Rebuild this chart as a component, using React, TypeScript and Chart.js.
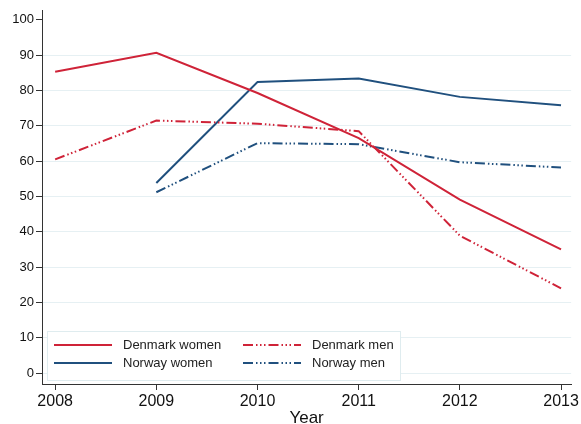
import React, { useEffect, useRef } from "react";
import { Chart, registerables } from "chart.js";

Chart.register(...registerables);

// Share of respondents by year, country and sex
const years = [2008, 2009, 2010, 2011, 2012, 2013];
const denmarkWomen = [85.3, 90.7, 79.3, 66.5, 49.1, 35.0];
const denmarkMen = [60.5, 71.5, 70.6, 68.5, 38.9, 24.0];
const norwayWomen = [null, 53.8, 82.4, 83.4, 78.2, 75.8];
const norwayMen = [null, 51.2, 65.1, 64.8, 59.7, 58.2];
const yTicks = [0, 10, 20, 30, 40, 50, 60, 70, 80, 90, 100];

const RED = "#cf2338";
const BLUE = "#20507e";
const DASH_DOTS = [10, 3, 1.5, 2.5, 1.5, 2.5, 1.5, 3];
const FONT = "'Liberation Sans', Arial, sans-serif";

const toPoints = (vals: (number | null)[]) =>
  years.map((x, i) => ({ x, y: vals[i] }));

// Two-column legend drawn inside the lower-left of the plot area
const boxLegend = {
  id: "boxLegend",
  afterDraw(chart: any) {
    const { ctx, chartArea } = chart;
    const ds = chart.data.datasets;
    const left = chartArea.left + 5;
    const right = left + 354;
    const bottom = chartArea.bottom - 3;
    const top = bottom - 50;
    ctx.save();
    ctx.fillStyle = "#ffffff";
    ctx.fillRect(left, top, right - left, bottom - top);
    ctx.strokeStyle = "#dfecef";
    ctx.lineWidth = 1;
    ctx.strokeRect(left + 0.5, top + 0.5, right - left - 1, bottom - top - 1);
    ctx.font = `13px ${FONT}`;
    ctx.textBaseline = "middle";
    ctx.textAlign = "left";
    const cols = [left + 7, left + 196];
    const rows = [top + 14, top + 32];
    // [dataset index, column, row]
    const layout = [
      [0, 0, 0],
      [1, 1, 0],
      [2, 0, 1],
      [3, 1, 1],
    ];
    layout.forEach(([di, c, r]) => {
      const d = ds[di];
      const x = cols[c];
      const y = rows[r];
      ctx.beginPath();
      ctx.strokeStyle = d.borderColor;
      ctx.lineWidth = 2;
      ctx.setLineDash(d.borderDash || []);
      ctx.moveTo(x, y);
      ctx.lineTo(x + 58, y);
      ctx.stroke();
      ctx.setLineDash([]);
      ctx.fillStyle = "#222222";
      ctx.fillText(d.label, x + 69, y);
    });
    ctx.restore();
  },
};

export default function App() {
  const ref = useRef<HTMLCanvasElement>(null);

  useEffect(() => {
    document.body.style.margin = "0";
    const canvas = ref.current;
    if (!canvas) return;
    const chart = new Chart(canvas, {
      type: "line",
      data: {
        datasets: [
          {
            label: "Denmark women",
            data: toPoints(denmarkWomen),
            borderColor: RED,
            borderWidth: 2,
            pointRadius: 0,
          },
          {
            label: "Denmark men",
            data: toPoints(denmarkMen),
            borderColor: RED,
            borderWidth: 2,
            borderDash: DASH_DOTS,
            pointRadius: 0,
          },
          {
            label: "Norway women",
            data: toPoints(norwayWomen),
            borderColor: BLUE,
            borderWidth: 2,
            pointRadius: 0,
          },
          {
            label: "Norway men",
            data: toPoints(norwayMen),
            borderColor: BLUE,
            borderWidth: 2,
            borderDash: DASH_DOTS,
            pointRadius: 0,
          },
        ] as any,
      },
      options: {
        responsive: false,
        animation: false,
        layout: { padding: { left: 0, top: 10, right: 9, bottom: 0 } },
        plugins: {
          legend: { display: false },
          tooltip: { enabled: false },
        },
        scales: {
          x: {
            type: "linear",
            min: 2007.87,
            max: 2013.1,
            afterBuildTicks: (s: any) => {
              s.ticks = years.map((v) => ({ value: v }));
            },
            afterFit: (s: any) => {
              s.height = 40;
            },
            grid: {
              drawOnChartArea: false,
              drawTicks: true,
              tickLength: 6,
              tickColor: "#333333",
            },
            border: { color: "#333333", width: 1 },
            ticks: {
              color: "#111111",
              font: { family: FONT, size: 16 },
              padding: 2,
              maxRotation: 0,
              callback: (v: any) => String(v),
            },
            title: {
              display: true,
              text: "Year",
              color: "#111111",
              font: { family: FONT, size: 17 },
              padding: { top: 0, bottom: -5 },
            },
          },
          y: {
            type: "linear",
            min: -3.1,
            max: 102.8,
            afterBuildTicks: (s: any) => {
              s.ticks = yTicks.map((v) => ({ value: v }));
            },
            afterFit: (s: any) => {
              s.width = 42;
            },
            grid: {
              color: (c: any) =>
                c.tick && c.tick.value === 100 ? "rgba(0,0,0,0)" : "#e6f0f3",
              lineWidth: 1,
              drawTicks: true,
              tickLength: 6,
              tickColor: "#333333",
            },
            border: { color: "#333333", width: 1 },
            ticks: {
              color: "#111111",
              font: { family: FONT, size: 13 },
              padding: 2,
            },
          },
        },
      },
      plugins: [boxLegend],
    } as any);
    return () => chart.destroy();
  }, []);

  return (
    <div style={{ position: "absolute", left: 0, top: 0, width: 581, height: 424, background: "#fff" }}>
      <canvas ref={ref} width={581} height={424} />
    </div>
  );
}
